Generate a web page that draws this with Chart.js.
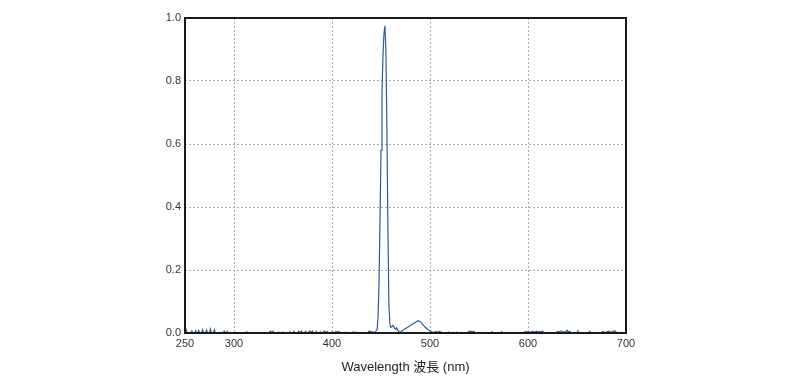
<!DOCTYPE html>
<html>
<head>
<meta charset="utf-8">
<script src="https://cdn.jsdelivr.net/npm/chart.js@4/dist/chart.umd.min.js"></script>
<style>
  html, body { margin: 0; padding: 0; background: #fff; }
  #wrap { width: 800px; height: 381px; }
</style>
</head>
<body>
<div id="wrap"><canvas id="spec" width="800" height="381"></canvas></div>
<script>
// spectrum (nm, relative intensity)
var wavelength = [
  250,251,252,256,257,258,260,261,262,263,264,265,267,268,269,271,272,273,275,276,277,279,280,281,
  289,290,291,292,293,294,312,313,314,336,337,338,339,340,341,344,345,346,349,350,351,356,357,358,
  360,361,362,365,366,367,368,369,370,372,373,374,376,377,378,379,380,381,383,384,385,387,388,389,
  391,392,393,394,395,396,399,400,401,403,404,405,406,407,408,413,414,415,420,421,436,438,439,440,
  442,444,446,447,448,449,450,451,452,453,454,455,456,457,458,459,460,461,462,463,464,465,466,
  467,468,469,470,472,474,476,478,480,482,484,486,488,490,492,494,496,498,500,502,504,506,508,510,
  511,512,518,519,520,526,527,528,538,539,541,543,545,546,562,563,564,572,573,574,596,597,598,600,
  602,605,607,609,610,612,613,615,616,629,630,632,634,636,638,640,641,643,644,650,651,652,662,663,
  664,675,676,678,680,682,684,686,688,690,691,700
];
var intensity = [
  0,0.012,0,0,0.006,0,0,0.007,0,0,0.008,0,0,0.01,0,0,0.009,0,0,0.012,0,0,0.01,0,
  0,0.006,0,0,0.005,0,0,0.004,0,0,0.006,0.004,0.003,0.005,0,0,0.003,0,0,0.003,0,0,0.004,0,
  0,0.005,0,0,0.005,0.003,0.002,0.006,0,0,0.005,0,0,0.006,0.004,0.002,0.006,0,0,0.005,0,0,0.004,0,
  0,0.006,0.004,0.002,0.005,0,0,0.004,0,0,0.005,0.004,0.002,0.005,0,0,0.003,0,0,0.003,0,0.006,0.003,0.004,
  0.002,0.003,0.01,0.05,0.16,0.36,0.58,0.76,0.88,0.95,0.975,0.9,0.66,0.35,0.1,0.03,0.018,0.02,0.024,0.02,0.015,0.012,0.016,
  0.01,0.005,0.003,0.004,0.008,0.012,0.016,0.02,0.024,0.028,0.032,0.036,0.039,0.036,0.03,0.022,0.016,0.01,0.007,0.003,0.002,0.004,0.003,0.005,
  0.003,0,0,0.003,0,0,0.003,0,0,0.004,0.006,0.004,0.005,0,0,0.004,0,0,0.004,0,0,0.005,0.003,0.004,
  0.002,0.005,0.003,0.006,0.003,0.005,0.002,0.006,0,0,0.005,0.004,0.007,0.004,0.003,0.009,0.003,0.005,0,0,0.006,0,0,0.005,
  0,0,0.005,0.003,0.002,0.006,0.003,0.004,0.007,0.003,0,0
];
var xTickValues = [250, 300, 400, 500, 600, 700];
var yTickValues = [0, 0.2, 0.4, 0.6, 0.8, 1.0];
var xTitle = 'Wavelength 波長 (nm)';

var pts = wavelength.map(function(w, i){ return {x: w, y: intensity[i]}; });

var fontFam = '"Liberation Sans", Arial, "Noto Sans CJK JP", sans-serif';

// black frame round the plot area
var framePlugin = {
  id: 'frame',
  afterDatasetsDraw: function(chart){
    var a = chart.chartArea, c = chart.ctx;
    c.save();
    c.strokeStyle = '#1a1a1a';
    c.lineWidth = 2;
    c.strokeRect(a.left, a.top, a.right - a.left, a.bottom - a.top);
    c.restore();
  }
};

new Chart(document.getElementById('spec'), {
  type: 'line',
  data: {
    datasets: [{
      data: pts,
      borderColor: '#2d5c8f',
      borderWidth: 1.2,
      pointRadius: 0,
      tension: 0,
      fill: false
    }]
  },
  options: {
    responsive: false,
    animation: false,
    layout: { padding: { top: 18, right: 174, left: 0, bottom: 0 } },
    plugins: { legend: { display: false }, tooltip: { enabled: false } },
    scales: {
      x: {
        type: 'linear',
        min: 250, max: 700,
        afterBuildTicks: function(s){ s.ticks = xTickValues.map(function(v){ return {value: v}; }); },
        afterFit: function(s){ s.height = 48; },
        grid: { color: '#ababab', lineWidth: 1, drawTicks: false },
        border: { display: false, dash: [2, 2] },
        ticks: { color: '#333', font: { family: fontFam, size: 11 }, padding: 4, maxRotation: 0 },
        title: { display: true, text: xTitle, color: '#222', font: { family: fontFam, size: 13 }, padding: { top: 3, bottom: 6 } }
      },
      y: {
        min: 0, max: 1,
        afterBuildTicks: function(s){ s.ticks = yTickValues.map(function(v){ return {value: v}; }); },
        afterFit: function(s){ s.width = 185; },
        grid: { color: '#ababab', lineWidth: 1, drawTicks: false },
        border: { display: false, dash: [2, 2] },
        ticks: { color: '#333', font: { family: fontFam, size: 11 }, padding: 4,
          callback: function(v){ return v.toFixed(1); } }
      }
    }
  },
  plugins: [framePlugin]
});
</script>
</body>
</html>
